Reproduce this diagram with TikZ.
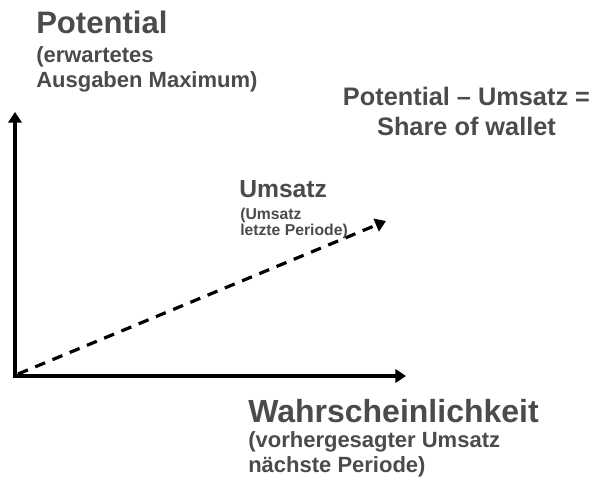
\documentclass[tikz,border=0pt]{standalone}
\usepackage{fontspec}
\setmainfont{Liberation Sans}
\usetikzlibrary{arrows.meta,positioning}
\definecolor{labelgray}{HTML}{4B4B4B}
\begin{document}
\begin{tikzpicture}[x=0.75pt,y=-0.75pt,>={Triangle[length=8pt,width=10pt]},
    axis/.style={line width=2.6pt,->},
    big/.style={text=labelgray,font=\bfseries\fontsize{23.3}{28}\selectfont,inner sep=0pt},
    mid/.style={text=labelgray,font=\bfseries\fontsize{18.5}{22}\selectfont,inner sep=0pt},
    sub/.style={text=labelgray,font=\bfseries\fontsize{16.5}{18.75}\selectfont,inner sep=0pt,align=left},
    small/.style={text=labelgray,font=\bfseries\fontsize{11.8}{12}\selectfont,inner sep=0pt,align=left}]
    \useasboundingbox(0,0)rectangle(593,480);
    \coordinate (O) at (15,376);
    \coordinate (ytip) at (15,112);
    \coordinate (xtip) at (406,376);
    \coordinate (utip) at (386,221);
    \draw[axis,line cap=rect](O)--(ytip);
    \draw[axis,line cap=rect](O)--(xtip);
    \draw[line width=2.4pt,dash pattern=on 8pt off 6pt,->]([shift={(3,-2)}]O)--(utip);
    \node[big,anchor=base west](pot) at (36,33){Potential};
    \node[sub,anchor=base west](potsub) at (36,87){(erwartetes\\Ausgaben Maximum)};
    \node[text=labelgray,font=\bfseries\fontsize{19}{21.8}\selectfont,inner sep=0pt,align=center,anchor=base](share) at (466.5,135){Potential -- Umsatz =\\Share of wallet};
    \node[mid,anchor=base west](ums) at (239,197){Umsatz};
    \node[small,anchor=base west](umssub) at (240,235){(Umsatz\\letzte Periode)};
    \node[big,font=\bfseries\fontsize{24}{28}\selectfont,anchor=base west](wahr) at (248,422){Wahrscheinlichkeit};
    \node[sub,anchor=base west](wahrsub) at (248,472){(vorhergesagter Umsatz\\nächste Periode)};
\end{tikzpicture}
\end{document}
